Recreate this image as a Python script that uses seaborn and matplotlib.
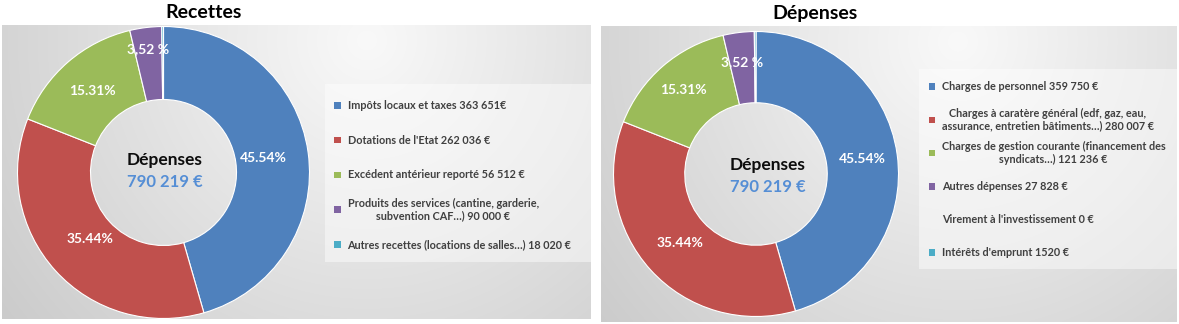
import numpy as np
import matplotlib
matplotlib.use("Agg")
import matplotlib.pyplot as plt
from matplotlib.patches import Rectangle
import seaborn as sns

# ---------------------------------------------------------------- data
recettes_title = "Recettes"
depenses_title = "Dépenses"

# ring shares in percent (same split drawn on both rings)
recettes_share = [45.54, 35.44, 15.31, 3.52, 0.19]
recettes_pct_text = ["45.54%", "35.44%", "15.31%", "3,52 %", ""]
recettes_legend = [
    "Impôts locaux et taxes 363 651€",
    "Dotations de l'Etat 262 036 €",
    "Excédent antérieur reporté 56 512 €",
    "Produits des services (cantine, garderie,\nsubvention CAF…) 90 000 €",
    "Autres recettes (locations de salles…) 18 020 €",
]

depenses_share = [45.54, 35.44, 15.31, 3.52, 0.0, 0.19]
depenses_pct_text = ["45.54%", "35.44%", "15.31%", "3,52 %", "", ""]
depenses_legend = [
    "Charges de personnel 359 750 €",
    "Charges à caratère général (edf, gaz, eau,\nassurance, entretien bâtiments…) 280 007 €",
    "Charges de gestion courante (financement des\nsyndicats…) 121 236 €",
    "Autres dépenses 27 828 €",
    "Virement à l'investissement 0 €",
    "Intérêts d'emprunt 1520 €",
]

center_caption = "Dépenses"
center_total = "790 219 €"

recettes_colors = sns.color_palette(["#4F81BD", "#C0504D", "#9BBB59", "#8064A2", "#4BACC6"])
depenses_colors = sns.color_palette(["#4F81BD", "#C0504D", "#9BBB59", "#8064A2", "#F79646", "#4BACC6"])

# ---------------------------------------------------------------- style
sns.set_theme(style="white")
plt.rcParams["font.family"] = ["Lato", "DejaVu Sans"]

W, H = 1179, 324
fig = plt.figure(figsize=(W / 100, H / 100), dpi=100)
fig.patch.set_facecolor("white")

# pixel-space layers: background (gradients) and foreground (texts, legends)
bg = fig.add_axes([0, 0, 1, 1], zorder=0)
fg = fig.add_axes([0, 0, 1, 1], zorder=5)
for a in (bg, fg):
    a.set_axis_off()
    a.patch.set_alpha(0)


def panel_gradient(ax, x0, x1, y0, y1):
    w, h = x1 - x0, y1 - y0
    X, Y = np.meshgrid(np.linspace(0, w, 400), np.linspace(0, h, 160))
    d = np.hypot(X - 0.62 * w, Y - 0.05 * h)
    v = np.clip((249 - 46 * d / 460) / 255, 0, 1)
    ax.imshow(np.dstack([v, v, v]), extent=(x0, x1, y1, y0), origin="upper",
              aspect="auto", interpolation="bilinear", zorder=0)


panel_gradient(bg, 2, 591, 25, 319)
panel_gradient(bg, 601, 1177, 26, 322)
bg.set_xlim(0, W)
bg.set_ylim(H, 0)
fg.set_xlim(0, W)
fg.set_ylim(H, 0)


def ring(cx, cy, r, shares, colors, pct_text, label_r):
    ax = fig.add_axes([(cx - r) / W, (H - cy - r) / H, 2 * r / W, 2 * r / H], zorder=2)
    keep = [i for i, s in enumerate(shares) if s > 0]
    vals = [shares[i] for i in keep]
    cols = [colors[i] for i in keep]
    txts = [pct_text[i] for i in keep]
    wedges, _ = ax.pie(vals, colors=cols, startangle=90, counterclock=False,
                       radius=1.0, normalize=True,
                       wedgeprops=dict(width=0.5, edgecolor="white", linewidth=0.8))
    for wdg, t, rr in zip(wedges, txts, label_r):
        if not t:
            continue
        ang = np.deg2rad((wdg.theta1 + wdg.theta2) / 2)
        ax.text(rr * np.cos(ang), rr * np.sin(ang), t, ha="center", va="center",
                color="white", fontsize=10, fontweight="bold")
    ax.set_xlim(-1, 1)
    ax.set_ylim(-1, 1)
    ax.set_aspect("auto")
    ax.set_axis_off()
    ax.patch.set_alpha(0)
    return ax


def legend_block(box, marker_x, text_x, y_start, step, labels, shares, colors):
    x0, y0, x1, y1 = box
    fg.add_patch(Rectangle((x0, y0), x1 - x0, y1 - y0, facecolor="white",
                           alpha=0.45, edgecolor="none", zorder=1))
    for i, (lab, s, c) in enumerate(zip(labels, shares, colors)):
        y = y_start + i * step
        if s > 0:
            fg.add_patch(Rectangle((marker_x - 3.3, y - 3.3), 6.6, 6.6,
                                   facecolor=c, edgecolor="none", zorder=2))
        fg.text(text_x, y, lab, ha="left", va="center", multialignment="center",
                fontsize=7.8, fontweight="bold", color="#404040",
                linespacing=1.15, zorder=3)


# ---------------- Recettes panel
ring(163.5, 172.5, 146, recettes_share, recettes_colors, recettes_pct_text,
     [0.69, 0.68, 0.74, 0.85])
fg.text(204, 13, recettes_title, ha="center", va="center", fontsize=14,
        fontweight="bold", color="black")
fg.text(165, 160, center_caption, ha="center", va="center", fontsize=12.5,
        fontweight="bold", color="#0d0d0d")
fg.text(165, 182, center_total, ha="center", va="center", fontsize=12,
        fontweight="bold", color="#558ED5")
legend_block((325, 84, 591, 262), 337.5, 347.5, 105.3, 34.75,
             recettes_legend, recettes_share, recettes_colors)

# ---------------- Dépenses panel
ring(756, 174, 142.5, depenses_share, depenses_colors, depenses_pct_text,
     [0.755, 0.72, 0.78, 0.79])
fg.text(815.5, 13, depenses_title, ha="center", va="center", fontsize=14,
        fontweight="bold", color="black")
fg.text(768, 165, center_caption, ha="center", va="center", fontsize=12.5,
        fontweight="bold", color="#0d0d0d")
fg.text(768, 187, center_total, ha="center", va="center", fontsize=12,
        fontweight="bold", color="#558ED5")
legend_block((919, 69, 1177, 269), 932, 941.7, 86.7, 33.2,
             depenses_legend, depenses_share, depenses_colors)

fig.savefig("out.png", dpi=100, facecolor="white")
